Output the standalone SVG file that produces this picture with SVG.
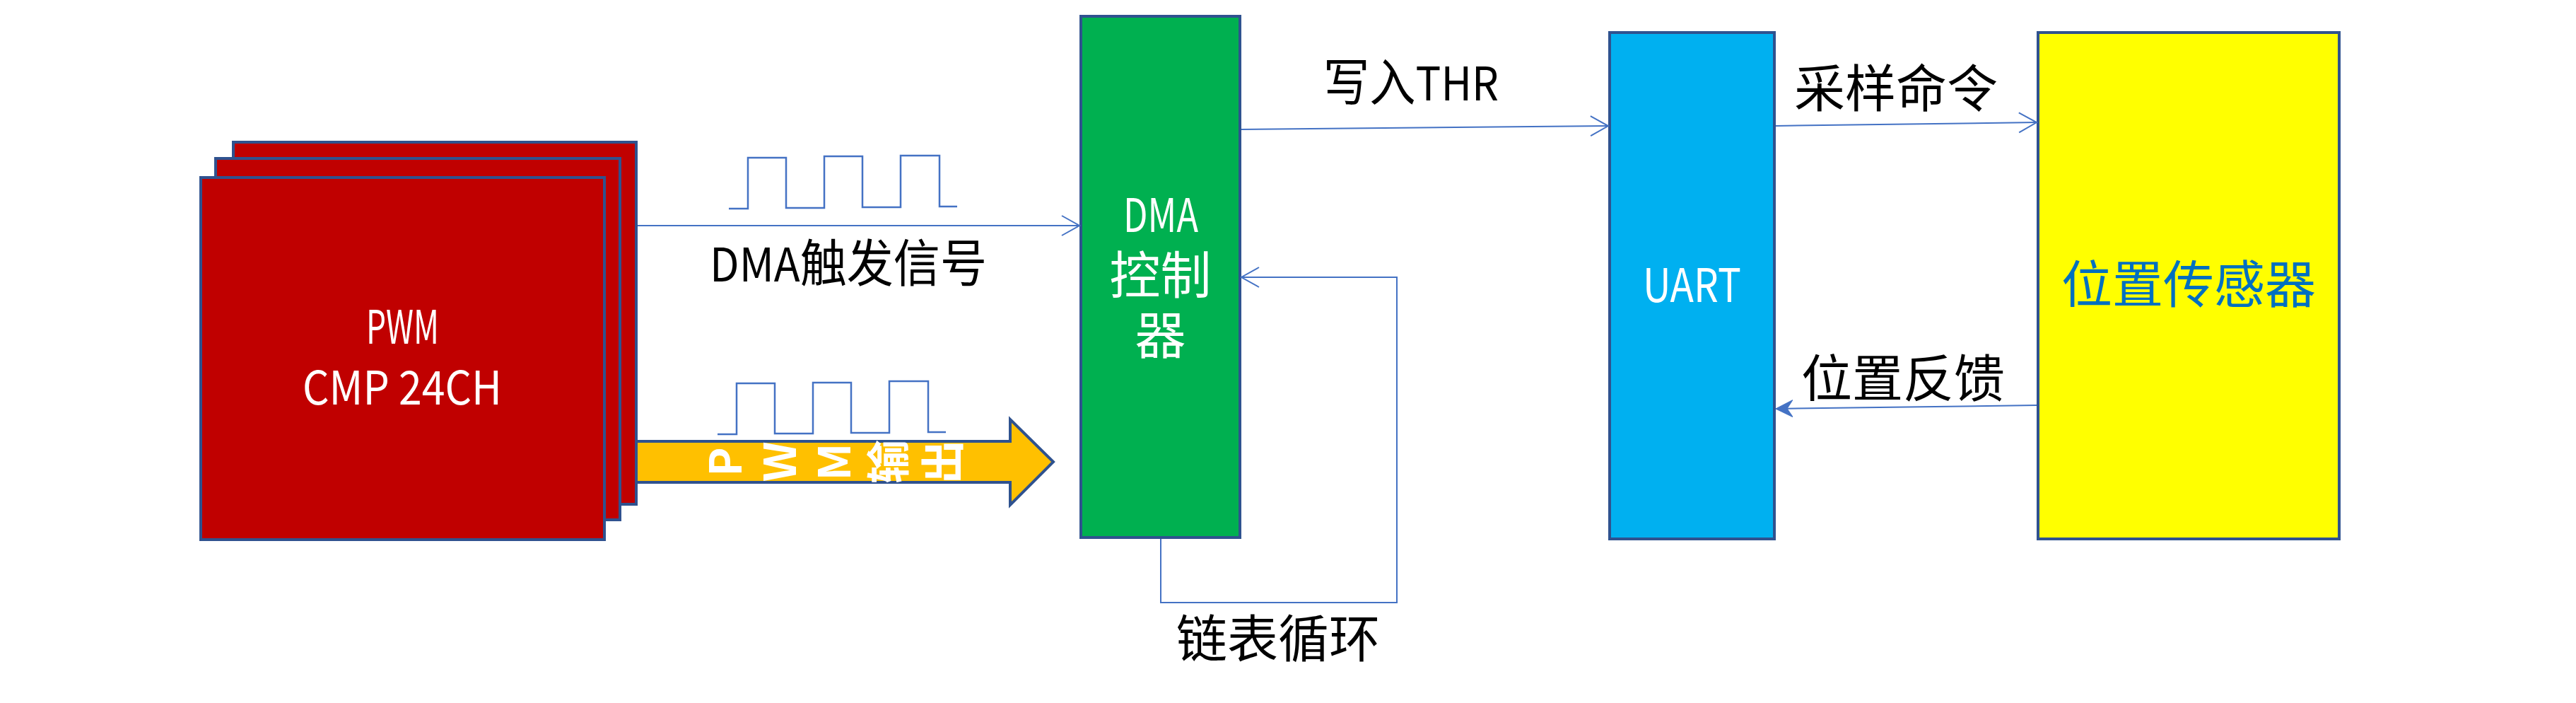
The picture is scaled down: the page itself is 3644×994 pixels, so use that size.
<svg xmlns="http://www.w3.org/2000/svg" width="3644" height="994" viewBox="0 0 3644 994">
<style>
.box{stroke:#2F528F;stroke-width:4}
.red{fill:#C00000}
.t{font-family:"Noto Sans CJK SC","Noto Sans",sans-serif;font-size:72px}
.lat{font-size:66px}
.w{fill:#FFFFFF}
.k{fill:#000000}
.conn{fill:none;stroke:#4472C4;stroke-width:2}
.wave{fill:none;stroke:#4472C4;stroke-width:2.5}
.vert{writing-mode:vertical-rl;text-orientation:upright;font-size:62px;letter-spacing:15px;font-weight:bold}
</style>
<defs>
<marker id="open" markerUnits="userSpaceOnUse" markerWidth="30" markerHeight="34" refX="26" refY="16" orient="auto">
<path d="M1,2 L26,16 L1,30" fill="none" stroke="#4472C4" stroke-width="2"/>
</marker>
<marker id="stealth" markerUnits="userSpaceOnUse" markerWidth="30" markerHeight="30" refX="24" refY="12" orient="auto">
<path d="M0,0 L24,12 L0,24 L8,12 Z" fill="#4472C4" stroke="#4472C4" stroke-width="1"/>
</marker>
</defs>
<rect width="3644" height="994" fill="#FFFFFF"/>

<g id="pwm-output-arrow">
<path d="M860,624 H1429 V593 L1490,653 L1429,714 V682 H860 Z" fill="#FFC000" stroke="#2F528F" stroke-width="4"/>
<text class="t w vert" x="994" y="653" transform="rotate(-90 994 653)">PWM输出</text>
</g>

<g id="pwm">
<rect class="box red" x="330" y="201" width="570" height="512"/>
<rect class="box red" x="305" y="224" width="572" height="511"/>
<rect class="box red" x="284" y="251" width="571" height="512"/>
<text class="t lat w" x="518" y="486" textLength="103" lengthAdjust="spacingAndGlyphs">PWM</text>
<text class="t lat w" x="428" y="572" textLength="282" lengthAdjust="spacingAndGlyphs">CMP 24CH</text>
</g>

<g id="waves">
<path class="wave" d="M1031,295 H1058 V223 H1112 V294 H1166 V221 H1220 V293 H1274 V220 H1329 V292 H1354"/>
<path class="wave" d="M1015,614 H1042 V542 H1096 V613 H1150 V541 H1204 V612 H1258 V539 H1313 V611 H1338"/>
</g>

<g id="dma">
<rect class="box" x="1529" y="23" width="225" height="737" fill="#00B050"/>
<text class="t lat w" x="1589" y="328" textLength="106" lengthAdjust="spacingAndGlyphs">DMA</text>
<text class="t w" x="1641.5" y="415" text-anchor="middle">控制</text>
<text class="t w" x="1641.5" y="500" text-anchor="middle">器</text>
</g>

<g id="uart">
<rect class="box" x="2277" y="46" width="233" height="716" fill="#00B0F0"/>
<text class="t lat w" x="2324" y="427" textLength="139" lengthAdjust="spacingAndGlyphs">UART</text>
</g>

<g id="sensor">
<rect class="box" x="2883" y="46" width="426" height="716" fill="#FFFF00"/>
<text class="t" fill="#0070C0" x="3096" y="428" text-anchor="middle">位置传感器</text>
</g>

<g id="connectors">
<line class="conn" x1="902" y1="319" x2="1527" y2="319" marker-end="url(#open)"/>
<line class="conn" x1="1756" y1="183" x2="2275" y2="178" marker-end="url(#open)"/>
<line class="conn" x1="2512" y1="178" x2="2881" y2="173" marker-end="url(#open)"/>
<line class="conn" x1="2881" y1="573" x2="2512" y2="578" marker-end="url(#stealth)"/>
<path class="conn" d="M1642,762 V852 H1976 V392 H1756" marker-end="url(#open)"/>
</g>

<g id="labels">
<text class="t k" x="1004" y="398" textLength="392" lengthAdjust="spacingAndGlyphs"><tspan class="lat">DMA</tspan>触发信号</text>
<text class="t k" x="1872" y="142" textLength="248" lengthAdjust="spacingAndGlyphs">写入<tspan class="lat">THR</tspan></text>
<text class="t k" x="1808" y="929" text-anchor="middle">链表循环</text>
<text class="t k" x="2682" y="151" text-anchor="middle">采样命令</text>
<text class="t k" x="2692" y="561" text-anchor="middle">位置反馈</text>
</g>
</svg>
